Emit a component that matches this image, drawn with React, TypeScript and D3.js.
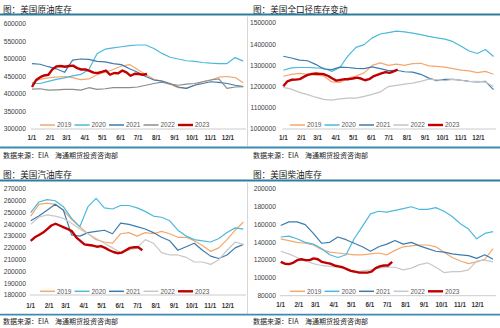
import React from 'react';
import * as d3 from 'd3';

const years = ['2019', '2020', '2021', '2022', '2023'];
const monthLabels = ['1/1', '2/1', '3/1', '4/1', '5/1', '6/1', '7/1', '8/1', '9/1', '10/1', '11/1', '12/1'];
const monthDays = [0, 31, 59, 90, 120, 151, 181, 212, 243, 273, 304, 334];

// Crude oil inventory (thousand barrels), bi-weekly samples through the year
const crude2019 = [432, 442, 446, 448, 450, 447, 441, 443, 455, 462, 470, 480, 484, 470, 456, 442, 437, 428, 418, 416, 425, 435, 440, 448, 450, 447, 432];
const crude2020 = [430, 430, 436, 442, 446, 452, 456, 470, 515, 528, 532, 535, 538, 540, 540, 530, 516, 505, 500, 495, 493, 490, 488, 487, 487, 504, 494];
const crude2021 = [487, 485, 478, 472, 462, 497, 500, 499, 493, 492, 487, 484, 472, 462, 450, 440, 437, 430, 420, 416, 425, 430, 435, 433, 430, 425, 421];
const crude2022 = [414, 415, 411, 412, 413, 413, 411, 418, 413, 415, 418, 418, 418, 420, 425, 430, 434, 428, 425, 428, 430, 435, 440, 443, 416, 420, 421];
const crude2023 = [420, 440, 448, 453, 455, 471, 479, 480, 478, 480, 481, 474, 470, 470, 466, 461, 460, 463, 467, 455, 460, 459, 467, 462, 452, 458, 457, 455, 457];

// Total inventory incl. SPR (thousand barrels)
const total2019 = [1249, 1258, 1262, 1258, 1254, 1250, 1222, 1220, 1240, 1250, 1265, 1300, 1312, 1300, 1306, 1300, 1308, 1310, 1298, 1295, 1292, 1285, 1278, 1274, 1266, 1272, 1258];
const total2020 = [1277, 1288, 1290, 1290, 1288, 1287, 1272, 1290, 1345, 1385, 1398, 1430, 1448, 1455, 1462, 1458, 1452, 1445, 1437, 1430, 1424, 1412, 1390, 1368, 1356, 1375, 1342];
const total2021 = [1343, 1335, 1325, 1322, 1305, 1283, 1280, 1292, 1290, 1286, 1285, 1293, 1285, 1275, 1277, 1270, 1268, 1258, 1240, 1228, 1234, 1234, 1230, 1225, 1222, 1225, 1186];
const total2022 = [1196, 1188, 1173, 1162, 1150, 1140, 1136, 1142, 1146, 1146, 1154, 1163, 1175, 1200, 1206, 1212, 1216, 1225, 1235, 1232, 1228, 1234, 1230, 1224, 1225, 1222, 1200];
const total2023 = [1202, 1225, 1232, 1233, 1235, 1246, 1255, 1260, 1262, 1260, 1258, 1250, 1238, 1228, 1232, 1235, 1235, 1238, 1242, 1238, 1230, 1235, 1248, 1255, 1262, 1268, 1265, 1272, 1280];

// Gasoline inventory (thousand barrels)
const gas2019 = [247, 257, 258, 257, 252, 244, 238, 232, 227, 225, 224, 232, 233, 230, 233, 232, 234, 232, 229, 229, 226, 222, 217, 220, 227, 235, 242];
const gas2020 = [250, 259, 261, 260, 255, 245, 238, 255, 262, 254, 253, 256, 256, 254, 251, 247, 246, 243, 235, 230, 227, 226, 225, 228, 233, 237, 236];
const gas2021 = [243, 247, 252, 257, 252, 231, 230, 233, 234, 235, 232, 241, 240, 238, 236, 233, 229, 226, 218, 221, 224, 218, 213, 211, 214, 220, 223];
const gas2022 = [240, 246, 248, 247, 245, 241, 236, 232, 228, 224, 220, 216, 218, 220, 227, 224, 216, 214, 214, 212, 208, 208, 206, 210, 218, 225, 223];
const gas2023 = [226, 229, 231, 233, 236, 239, 240.5, 239, 237.5, 236, 234, 229, 226, 223, 222.5, 222, 221, 221.5, 220, 218, 216.5, 215.5, 216, 218, 220, 220.5, 220.5, 218];

// Distillate inventory (thousand barrels)
const dist2019 = [144, 142, 140, 139, 137, 132, 129, 128, 127, 126, 126, 127, 128, 126, 131, 135, 136, 137, 137, 135, 129, 123, 119, 116, 118, 121, 133];
const dist2020 = [146, 147, 144, 140, 138, 133, 126, 123, 126, 144, 158, 172, 175, 174, 176, 178, 180, 177, 177, 179, 175, 169, 161, 155, 144, 150, 152];
const dist2021 = [159, 163, 163, 160, 150, 139, 140, 146, 143, 139, 135, 130, 135, 138, 142, 138, 140, 136, 133, 130, 129, 127, 126, 125, 122, 126, 121];
const dist2022 = [130, 127, 123, 119, 116, 114, 113, 112, 110, 106, 108, 109, 111, 112, 112, 109, 111, 115, 117, 112, 106, 107, 107, 109, 119, 120, 118];
const dist2023 = [118, 116, 115.5, 117, 120, 121, 120, 120, 122, 121, 118, 117, 116, 114, 113, 112, 110, 108, 107, 106, 106, 106, 107, 111, 113, 114, 114, 118];

const crudeTicks = [300, 350, 400, 450, 500, 550, 600];
const crudeTickLabels = ['300000', '350000', '400000', '450000', '500000', '550000', '600000'];
const totalTicks = [1000, 1100, 1200, 1300, 1400, 1500];
const totalTickLabels = ['1000000', '1100000', '1200000', '1300000', '1400000', '1500000'];
const gasTicks = [180, 190, 200, 210, 220, 230, 240, 250, 260, 270];
const gasTickLabels = ['180000', '190000', '200000', '210000', '220000', '230000', '240000', '250000', '260000', '270000'];
const distTicks = [80, 100, 120, 140, 160, 180, 200];
const distTickLabels = ['80000', '100000', '120000', '140000', '160000', '180000', '200000'];

const titles = ['图：美国原油库存', '图：美国全口径库存变动', '图：美国汽油库存', '图：美国柴油库存'];
const sourceText = '数据来源：EIA';
const orgText = '海通期货投资咨询部';

const COLORS = ['#F4A76E', '#4CB9DD', '#3D7BAE', '#BDBDBD', '#C00000'];
const CJK = "'Noto Sans CJK SC', sans-serif";
const NUM = "'Liberation Sans', Arial, sans-serif";

type Cfg = {
  ox: number; oy: number; title: string;
  data: number[][]; ticks: number[]; tickLabels: string[];
  yDomain: [number, number]; yRange: [number, number]; xRange: [number, number];
  xLabelY: number; legendY: number; footLineY: number; footTextY: number;
  titleY: number; lineY: number; grey2022: string; sep: boolean;
};

function Panel({ cfg }: { cfg: Cfg }) {
  const x = d3.scaleLinear().domain([0, 334]).range(cfg.xRange);
  const y = d3.scaleLinear().domain(cfg.yDomain).range(cfg.yRange);
  const line = d3.line<[number, number]>().x(d => x(d[0])).y(d => y(d[1]));
  const colors = COLORS.map((c, i) => (i === 3 ? cfg.grey2022 : c));
  const series = cfg.data.map((vals, si) => {
    const step = si === 4 ? 7 : 360 / 26;
    return vals.map((v, i) => [i * step, v] as [number, number]);
  });
  const axisY = cfg.yRange[0];
  return (
    <g transform={`translate(${cfg.ox},${cfg.oy})`}>
      <text x={3} y={cfg.titleY} fontFamily={CJK} fontSize={8.6} fill="#1a1a1a">{cfg.title}</text>
      <line x1={0} x2={250} y1={cfg.lineY} y2={cfg.lineY} stroke="#2F7D9E" strokeWidth={1.8} />
      {cfg.sep && <line x1={247.5} x2={247.5} y1={cfg.lineY + 2} y2={cfg.footLineY - 1} stroke="#d6d6d6" strokeWidth={1} />}
      {cfg.ticks.map((t, i) => (
        <text key={t} x={26} y={y(t) + 2.3} textAnchor="end" fontFamily={NUM} fontSize={6.7} fill="#404040">{cfg.tickLabels[i]}</text>
      ))}
      <line x1={cfg.xRange[0] - 1} x2={246} y1={axisY} y2={axisY} stroke="#bfbfbf" strokeWidth={0.8} />
      {monthDays.map((d, i) => (
        <text key={d} x={x(d)} y={cfg.xLabelY} textAnchor="middle" fontFamily={NUM} fontWeight="bold" fontSize={6.3} fill="#333">{monthLabels[i]}</text>
      ))}
      {series.map((pts, si) => (
        <path key={si} d={line(pts) || ''} fill="none" stroke={colors[si]} strokeWidth={si === 4 ? 2.4 : 1.2} strokeLinejoin="round" />
      ))}
      {years.map((yr, i) => {
        const lx = 40 + i * 34.5;
        return (
          <g key={yr}>
            <line x1={lx} x2={lx + 15} y1={cfg.legendY} y2={cfg.legendY} stroke={colors[i]} strokeWidth={i === 4 ? 2.4 : 1.5} />
            <text x={lx + 17} y={cfg.legendY + 2.3} fontFamily={NUM} fontSize={6.5} fill="#595959">{yr}</text>
          </g>
        );
      })}
      <line x1={0} x2={250} y1={cfg.footLineY} y2={cfg.footLineY} stroke="#3A8DB0" strokeWidth={1.8} />
      <text x={3} y={cfg.footTextY} fontFamily={CJK} fontSize={7} fill="#222">{sourceText}</text>
      <text x={55} y={cfg.footTextY} fontFamily={CJK} fontSize={7} fill="#222">{orgText}</text>
    </g>
  );
}

export default function App() {
  const cfgs: Cfg[] = [
    {
      ox: 0, oy: 0, title: titles[0], data: [crude2019, crude2020, crude2021, crude2022, crude2023],
      ticks: crudeTicks, tickLabels: crudeTickLabels, yDomain: [300, 600], yRange: [129, 24], xRange: [32, 228],
      xLabelY: 139.5, legendY: 125, footLineY: 147.5, footTextY: 157.5, titleY: 12.5, lineY: 14.5, grey2022: '#8C8C8C', sep: true,
    },
    {
      ox: 250, oy: 0, title: titles[1], data: [total2019, total2020, total2021, total2022, total2023],
      ticks: totalTicks, tickLabels: totalTickLabels, yDomain: [1000, 1500], yRange: [129, 23], xRange: [33.3, 228.3],
      xLabelY: 139.5, legendY: 125, footLineY: 147.5, footTextY: 157.5, titleY: 12.5, lineY: 14.5, grey2022: '#C4C4C4', sep: false,
    },
    {
      ox: 0, oy: 164, title: titles[2], data: [gas2019, gas2020, gas2021, gas2022, gas2023],
      ticks: gasTicks, tickLabels: gasTickLabels, yDomain: [180, 270], yRange: [131, 25], xRange: [30.7, 228],
      xLabelY: 143.8, legendY: 127.3, footLineY: 150.7, footTextY: 159.5, titleY: 14.2, lineY: 16.5, grey2022: '#C8C8C8', sep: true,
    },
    {
      ox: 250, oy: 164, title: titles[3], data: [dist2019, dist2020, dist2021, dist2022, dist2023],
      ticks: distTicks, tickLabels: distTickLabels, yDomain: [80, 200], yRange: [131.7, 25], xRange: [30.7, 227.7],
      xLabelY: 143, legendY: 127.3, footLineY: 150.7, footTextY: 159.5, titleY: 14.2, lineY: 16.5, grey2022: '#C8C8C8', sep: false,
    },
  ];
  return (
    <svg width={500} height={328} style={{ position: 'absolute', left: 0, top: 0, background: '#fff' }}>
      <rect x={0} y={0} width={500} height={328} fill="#fff" />
      {cfgs.map((c, i) => <Panel key={i} cfg={c} />)}
    </svg>
  );
}
